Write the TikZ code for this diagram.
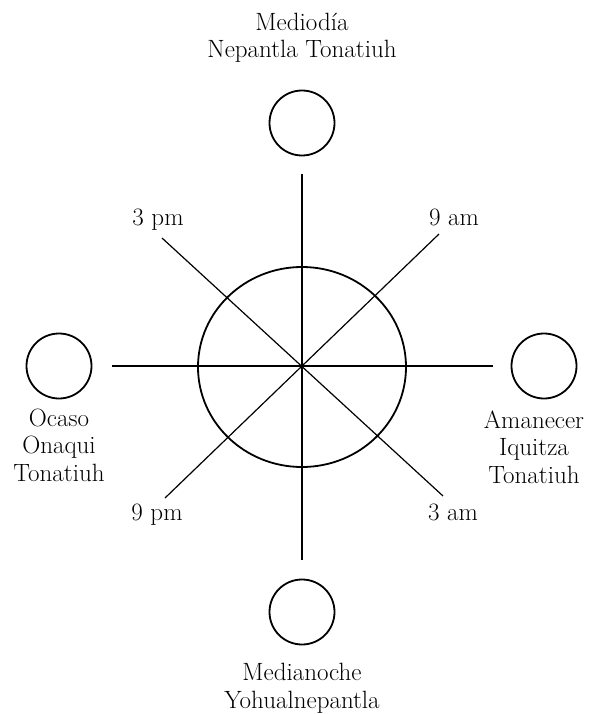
\documentclass[tikz,border=0pt]{standalone}
\usetikzlibrary{positioning}
\tikzset{
  sun/.style={draw, circle, line width=1.8pt, minimum size=65pt, inner sep=0pt},
  ring/.style={line width=1.8pt},
  spoke/.style={line width=1.2pt},
  lbl/.style={align=center, inner sep=0pt, anchor=base,
              font=\fontsize{25}{27.5}\selectfont}}
\begin{document}
\begin{tikzpicture}[x=1pt, y=-1pt]
  \useasboundingbox (0,0) rectangle (592,714);
  % the four suns
  \node[sun] (noon)  at (302,123) {};
  \node[sun] (night) at (302,612) {};
  \node[sun] (dusk)  at (59,366)  {};
  \node[sun] (dawn)  at (544,366) {};
  % labels sit on the baseline of their last line
  \node[lbl] (noonl)  at (302,58)  {Mediodía\\Nepantla Tonatiuh};
  \node[lbl] (nightl) at (302,708) {Medianoche\\Yohualnepantla};
  \node[lbl] (duskl)  at (59,481)  {Ocaso\\Onaqui\\Tonatiuh};
  \node[lbl] (dawnl)  at (534,483) {Amanecer\\Iquitza\\Tonatiuh};
  % the day wheel
  \coordinate (c) at (302,367);
  \draw[ring] (c) ellipse [x radius=104, y radius=100];
  \coordinate (n)  at (302,174);
  \coordinate (s)  at (302,560);
  \coordinate (w)  at (112,366);
  \coordinate (e)  at (493,366);
  \coordinate (ne) at (439,234);
  \coordinate (sw) at (165,498);
  \coordinate (nw) at (162,238);
  \coordinate (se) at (443,496);
  \draw[spoke] (n) -- (s);
  \draw[spoke] (w) -- (e);
  \draw[spoke] (ne) -- (sw);
  \draw[spoke] (nw) -- (se);
  % the hours
  \node[lbl] (h9am) at (454,225) {9 am};
  \node[lbl] (h3pm) at (158,225) {3 pm};
  \node[lbl] (h9pm) at (157,520) {9 pm};
  \node[lbl] (h3am) at (453,520) {3 am};
\end{tikzpicture}
\end{document}
